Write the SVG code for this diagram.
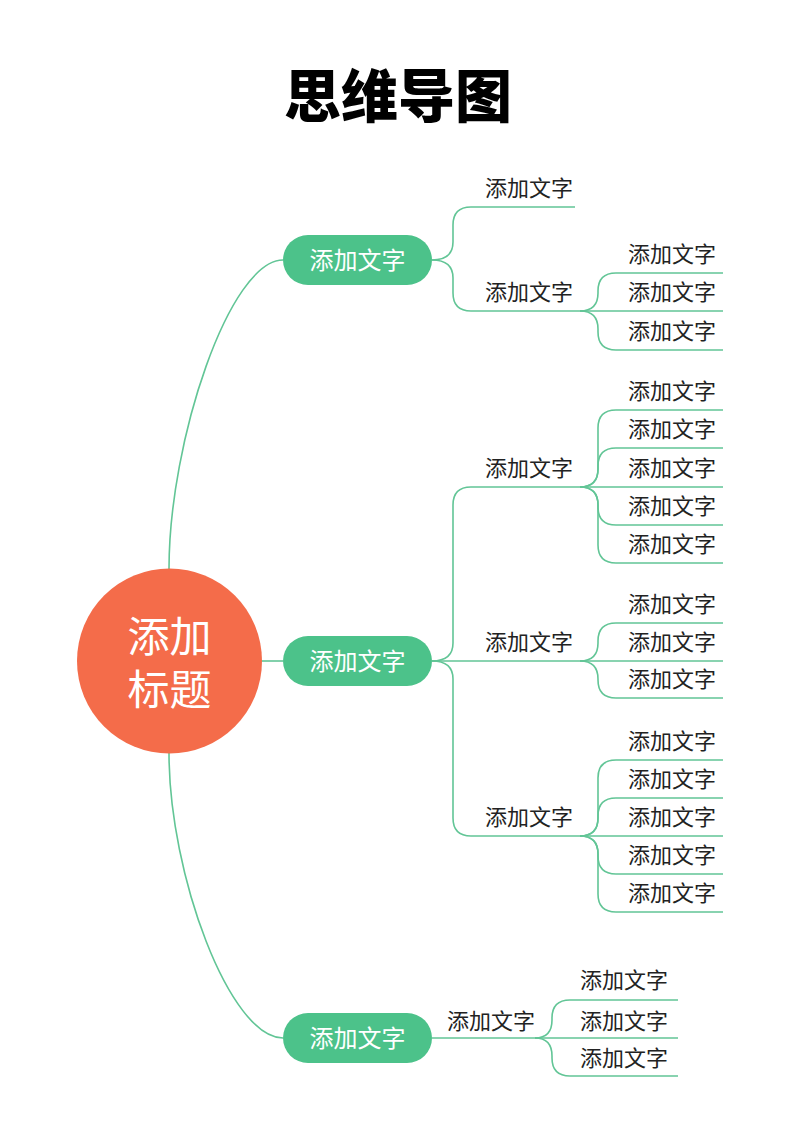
<svg xmlns="http://www.w3.org/2000/svg" width="800" height="1131" viewBox="0 0 800 1131">
<style>
.t{font-family:"Noto Sans CJK SC","Noto Sans",sans-serif;}
.title{font-size:57px;font-weight:900;fill:#000;}
.leaf{font-size:22px;fill:#222;}
.pill{fill:#4CC28A;}
.pt{font-size:24px;fill:#fff;}
.ct{font-size:42px;fill:#fff;}
#connectors path{fill:none;stroke:#62C596;stroke-width:1.6;}
</style>
<rect width="800" height="1131" fill="#fff"/>
<text class="t title" x="398" y="117" text-anchor="middle">思维导图</text>
<g id="connectors">
<path d="M169,569 C169,440 230,260 283,260"/>
<path d="M169,753 C169,875 230,1038 283,1038"/>
<path d="M262,661 H283"/>
<path d="M432,260 Q453,260 453,242 V225 Q453,207 471,207 H575"/>
<path d="M432,260 Q453,260 453,278 V293 Q453,311 471,311 H723"/>
<path d="M580,311 Q598,311 598,293 V291 Q598,273 616,273 H723"/>
<path d="M580,311 Q598,311 598,329 V332 Q598,350 616,350 H723"/>
<path d="M432,661 Q453,661 453,643 V505 Q453,487 471,487 H723"/>
<path d="M432,661 H723"/>
<path d="M432,661 Q453,661 453,679 V818 Q453,836 471,836 H723"/>
<path d="M580,487 Q598,487 598,469 V428 Q598,410 616,410 H723"/>
<path d="M580,487 Q598,487 598,469 V466 Q598,448 616,448 H723"/>
<path d="M580,487 Q598,487 598,505 V507 Q598,525 616,525 H723"/>
<path d="M580,487 Q598,487 598,505 V545 Q598,563 616,563 H723"/>
<path d="M580,661 Q598,661 598,643 V641 Q598,623 616,623 H723"/>
<path d="M580,661 Q598,661 598,679 V680 Q598,698 616,698 H723"/>
<path d="M580,836 Q598,836 598,818 V778 Q598,760 616,760 H723"/>
<path d="M580,836 Q598,836 598,818 V816 Q598,798 616,798 H723"/>
<path d="M580,836 Q598,836 598,854 V856 Q598,874 616,874 H723"/>
<path d="M580,836 Q598,836 598,854 V894 Q598,912 616,912 H723"/>
<path d="M432,1038 H678"/>
<path d="M535,1038 Q552,1038 552,1020 V1018 Q552,1000 570,1000 H678"/>
<path d="M535,1038 Q552,1038 552,1056 V1058 Q552,1076 570,1076 H678"/>
</g>
<g id="root">
<circle cx="169.5" cy="661" r="92.5" fill="#F46C4A"/>
<text class="t ct" text-anchor="middle"><tspan x="169.5" y="652">添加</tspan><tspan x="169.5" y="705">标题</tspan></text>
</g>
<g id="branch1">
<rect class="pill" x="283" y="235" width="149" height="50" rx="25"/>
<text class="t pt" x="357.5" y="269" text-anchor="middle">添加文字</text>
</g>
<g id="branch2">
<rect class="pill" x="283" y="636" width="149" height="50" rx="25"/>
<text class="t pt" x="357.5" y="670" text-anchor="middle">添加文字</text>
</g>
<g id="branch3">
<rect class="pill" x="283" y="1013" width="149" height="50" rx="25"/>
<text class="t pt" x="357.5" y="1047" text-anchor="middle">添加文字</text>
</g>
<g id="b1c1"><text class="t leaf" x="485" y="196">添加文字</text></g>
<g id="b1c2"><text class="t leaf" x="485" y="300">添加文字</text></g>
<g id="b1c2g1"><text class="t leaf" x="628" y="262">添加文字</text></g>
<g id="b1c2g2"><text class="t leaf" x="628" y="300">添加文字</text></g>
<g id="b1c2g3"><text class="t leaf" x="628" y="339">添加文字</text></g>
<g id="b2c1"><text class="t leaf" x="485" y="476">添加文字</text></g>
<g id="b2c1g1"><text class="t leaf" x="628" y="399">添加文字</text></g>
<g id="b2c1g2"><text class="t leaf" x="628" y="437">添加文字</text></g>
<g id="b2c1g3"><text class="t leaf" x="628" y="476">添加文字</text></g>
<g id="b2c1g4"><text class="t leaf" x="628" y="514">添加文字</text></g>
<g id="b2c1g5"><text class="t leaf" x="628" y="552">添加文字</text></g>
<g id="b2c2"><text class="t leaf" x="485" y="650">添加文字</text></g>
<g id="b2c2g1"><text class="t leaf" x="628" y="612">添加文字</text></g>
<g id="b2c2g2"><text class="t leaf" x="628" y="650">添加文字</text></g>
<g id="b2c2g3"><text class="t leaf" x="628" y="687">添加文字</text></g>
<g id="b2c3"><text class="t leaf" x="485" y="825">添加文字</text></g>
<g id="b2c3g1"><text class="t leaf" x="628" y="749">添加文字</text></g>
<g id="b2c3g2"><text class="t leaf" x="628" y="787">添加文字</text></g>
<g id="b2c3g3"><text class="t leaf" x="628" y="825">添加文字</text></g>
<g id="b2c3g4"><text class="t leaf" x="628" y="863">添加文字</text></g>
<g id="b2c3g5"><text class="t leaf" x="628" y="901">添加文字</text></g>
<g id="b3c1"><text class="t leaf" x="447" y="1029">添加文字</text></g>
<g id="b3c1g1"><text class="t leaf" x="580" y="988">添加文字</text></g>
<g id="b3c1g2"><text class="t leaf" x="580" y="1029">添加文字</text></g>
<g id="b3c1g3"><text class="t leaf" x="580" y="1066">添加文字</text></g>
</svg>
